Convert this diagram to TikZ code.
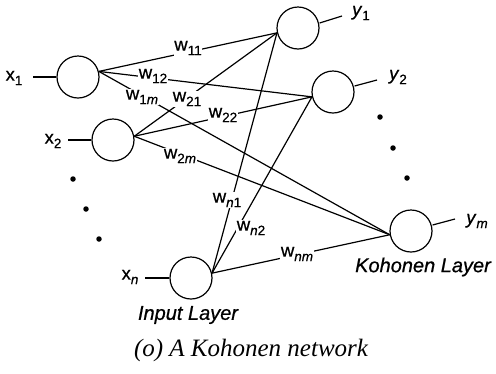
\documentclass[tikz,border=0pt]{standalone}
\usepackage{fontspec}
\setmainfont[FakeBold=0.6,AutoFakeBold=0.6]{Liberation Sans}
\newfontfamily\capfont[AutoFakeBold=0.4]{Liberation Serif}
\newcommand\sbs[1]{\raisebox{-0.45ex}{\fontsize{13.5}{13.5}\selectfont #1}}
\begin{document}
\begin{tikzpicture}[x=1pt,y=-1pt,
  neuron/.style={circle,draw,line width=1.2pt,minimum size=42pt,inner sep=0pt},
  conn/.style={line width=1.2pt},
  lab/.style={fill=white,inner sep=0.8pt,font=\fontsize{18.5}{18.5}\selectfont\bfseries},
  io/.style={inner sep=0pt,font=\fontsize{18.5}{18.5}\selectfont\bfseries},
  layer/.style={inner sep=0pt,font=\fontsize{20}{20}\selectfont\itshape},
  dotnode/.style={circle,fill,inner sep=0pt,minimum size=5.5pt}]
\useasboundingbox (0,0) rectangle (496,373);
% neurons
\node[neuron] (x1) at (78,77) {};
\node[neuron] (x2) at (113,140) {};
\node[neuron] (xn) at (191,278) {};
\node[neuron] (y1) at (298,28) {};
\node[neuron] (y2) at (333,92) {};
\node[neuron] (ym) at (411,231) {};
% input / output labels
\node[io] (lx1) at (14,78) {x\sbs{1}};
\node[io] (lx2) at (53,141) {x\sbs{2}};
\node[io] (lxn) at (130,277) {x\sbs{\textit{n}}};
\node[io] (ly1) at (361,13) {\textit{y}\sbs{1}};
\node[io] (ly2) at (398,77) {\textit{y}\sbs{2}};
\node[io] (lym) at (477,221) {\textit{y}\sbs{\textit{m}}};
\coordinate (ix1) at (33,77);
\coordinate (ix2) at (68,140);
\coordinate (ixn) at (145,278);
\coordinate (oy1) at (342,16);
\coordinate (oy2) at (377,80);
\coordinate (oym) at (455,219);
\draw[conn] (ix1) -- (x1.west);
\draw[conn] (ix2) -- (x2.west);
\draw[conn] (ixn) -- (xn.west);
\draw[conn] (y1.east) ++(0,-5) coordinate (ey1) (ey1) -- (oy1);
\draw[conn] (y2.east) ++(0,-6) coordinate (ey2) (ey2) -- (oy2);
\draw[conn] (ym.east) ++(0,-6) coordinate (eym) (eym) -- (oym);
% connections
\draw[conn] (x1.15) -- (y1.193);
\draw[conn] (x1.15) -- (y2.193);
\draw[conn] (x1.15) -- (ym.190);
\draw[conn] (x2.10) -- (y1.193);
\draw[conn] (x2.10) -- (y2.193);
\draw[conn] (x2.10) -- (ym.190);
\draw[conn] (xn.13) -- (y1.193);
\draw[conn] (xn.13) -- (y2.193);
\draw[conn] (xn.13) -- (ym.190);
% weight labels
\node[lab] (w11) at (188,48) {w\sbs{11}};
\node[lab] (w12) at (153,76) {w\sbs{12}};
\node[lab] (w1m) at (142,97) {w\sbs{1\textit{m}}};
\node[lab] (w21) at (187,99) {w\sbs{21}};
\node[lab] (w22) at (223,115) {w\sbs{22}};
\node[lab] (w2m) at (180,156) {w\sbs{2\textit{m}}};
\node[lab] (wn1) at (227,200) {w\sbs{\textit{n}1}};
\node[lab] (wn2) at (251,228) {w\sbs{\textit{n}2}};
\node[lab] (wnm) at (297,254) {w\sbs{\textit{nm}}};
% dots
\node[dotnode] (d1) at (73,179) {};
\node[dotnode] (d2) at (86,209) {};
\node[dotnode] (d3) at (99,239) {};
\node[dotnode] (d4) at (380,117) {};
\node[dotnode] (d5) at (393,148) {};
\node[dotnode] (d6) at (407,178) {};
% layer names
\node[layer] (inl) at (188,315) {Input Layer};
\node[layer] (kol) at (423,267) {Kohonen Layer};
\node[inner sep=0pt,font=\capfont\fontsize{25}{25}\selectfont\itshape] (cap) at (251,350) {(o) A Kohonen network};
\end{tikzpicture}
\end{document}
